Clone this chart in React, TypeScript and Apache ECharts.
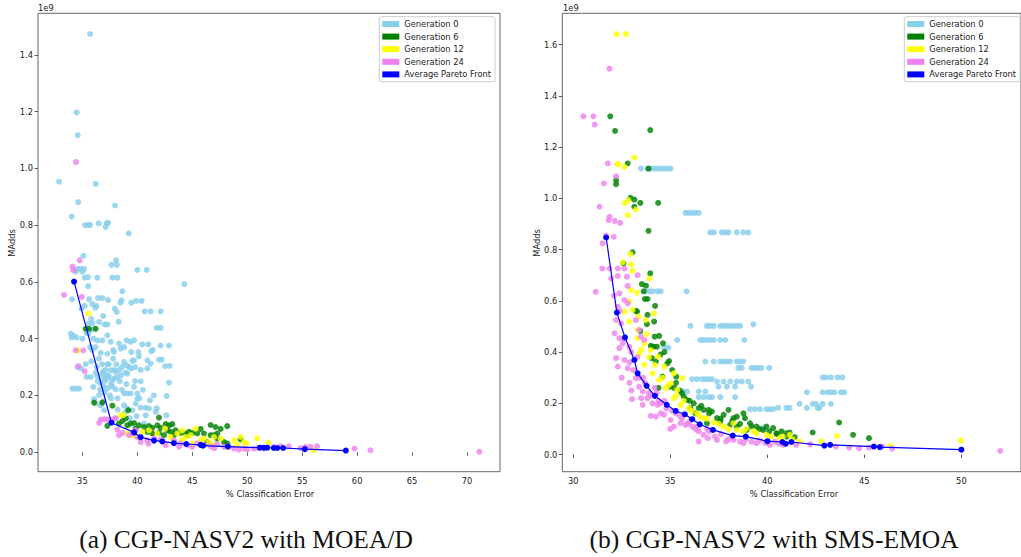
import React, { useEffect, useRef } from "react";
import * as echarts from "echarts";

// Series names and colours (legend order)
const SERIES_NAMES = ["Generation 0", "Generation 6", "Generation 12", "Generation 24", "Average Pareto Front"];
const SERIES_COLORS = ["#87CEEB", "#008000", "#FFFF00", "#EE82EE", "#0000FF"];

// Tick labels
const X_TICKS_A = [35, 40, 45, 50, 55, 60, 65, 70];
const Y_TICKS_A = [0, 0.2, 0.4, 0.6, 0.8, 1.0, 1.2, 1.4];
const X_TICKS_B = [30, 35, 40, 45, 50];
const Y_TICKS_B = [0, 0.2, 0.4, 0.6, 0.8, 1.0, 1.2, 1.4, 1.6];

// (a) CGP-NASV2 with MOEA/D   — [% classification error, MAdds ×1e9]
const MOEAD_GEN0: [number, number][] = [
  [35.70,1.473],[34.48,1.197],[34.58,1.117],[32.88,0.953],[36.21,0.945],[34.61,0.881],[34.03,0.830],[37.97,0.869],
  [35.24,0.800],[35.55,0.800],[35.70,0.800],[36.48,0.806],[37.21,0.806],[37.33,0.808],[37.12,0.793],[39.21,0.771],
  [35.09,0.692],[38.06,0.676],[37.64,0.660],[38.12,0.660],[34.55,0.646],[34.85,0.646],[35.15,0.646],[34.39,0.636],
  [35.00,0.636],[40.00,0.642],[40.85,0.642],[36.36,0.615],[35.52,0.617],[37.73,0.615],[38.18,0.615],[35.21,0.615],
  [44.27,0.592],[35.52,0.585],[34.06,0.539],[35.61,0.539],[36.42,0.543],[36.82,0.543],[37.33,0.536],[35.91,0.522],
  [35.21,0.516],[36.27,0.516],[38.64,0.567],[38.55,0.535],[38.48,0.527],[39.45,0.527],[39.88,0.533],[40.39,0.533],
  [37.94,0.506],[38.12,0.494],[40.67,0.496],[41.21,0.496],[42.12,0.496],[34.91,0.506],[36.18,0.509],[35.55,0.453],
  [35.91,0.455],[36.52,0.459],[37.03,0.450],[37.27,0.450],[35.76,0.430],[36.06,0.435],[35.52,0.418],[33.94,0.418],
  [34.03,0.404],[34.48,0.404],[35.00,0.400],[36.36,0.394],[36.82,0.394],[37.27,0.412],[37.58,0.389],[38.33,0.383],
  [39.03,0.394],[39.39,0.389],[39.70,0.394],[40.45,0.380],[41.76,0.438],[42.12,0.438],[42.12,0.376],[42.88,0.376],
  [41.27,0.356],[36.67,0.350],[37.27,0.347],[37.88,0.353],[38.48,0.365],[39.45,0.353],[40.09,0.353],[40.15,0.338],
  [40.91,0.324],[41.21,0.312],[41.97,0.326],[42.21,0.326],[42.52,0.303],[42.94,0.304],[40.91,0.295],[38.79,0.318],
  [39.03,0.306],[39.55,0.322],[39.70,0.324],[37.27,0.310],[37.58,0.289],[38.03,0.283],[38.33,0.289],[34.55,0.300],
  [34.85,0.295],[35.39,0.265],[35.76,0.265],[36.36,0.268],[36.82,0.277],[37.27,0.259],[37.73,0.254],[38.18,0.265],
  [39.09,0.277],[39.24,0.300],[39.45,0.295],[42.88,0.245],[39.79,0.251],[34.09,0.224],[34.39,0.224],[34.70,0.224],
  [36.67,0.242],[36.97,0.230],[37.27,0.224],[37.73,0.232],[38.03,0.221],[38.79,0.207],[39.09,0.207],[39.39,0.207],
  [36.52,0.201],[40.00,0.207],[40.00,0.189],[42.67,0.198],[41.15,0.183],[39.85,0.171],[40.30,0.157],[40.76,0.157],
  [41.06,0.154],[38.79,0.165],[39.09,0.154],[39.55,0.148],[41.76,0.155],[36.67,0.165],[36.97,0.148],[40.76,0.130],
  [41.67,0.142],[42.64,0.130],[39.94,0.127],[40.61,0.101],[36.06,0.187],[36.21,0.171],[36.90,0.285],[37.40,0.270],
  [37.00,0.250],[37.60,0.240],[36.60,0.220],[37.90,0.290],[38.40,0.250],[36.30,0.300],[35.90,0.360],[36.00,0.400],
  [35.70,0.370],[34.20,0.410],[35.30,0.310],[36.90,0.180],[37.50,0.200],[38.20,0.150],[38.00,0.120],[39.30,0.120],
  [36.50,0.330],[36.80,0.310],[37.10,0.290],[37.40,0.310],[37.80,0.330],[38.10,0.310],[38.60,0.300],[38.90,0.280],
  [38.50,0.270],[37.90,0.260],[37.20,0.270],[36.90,0.260],[36.40,0.250],[36.20,0.280],[36.00,0.230],[37.00,0.210],
  [37.60,0.190],[38.20,0.190],[38.60,0.220],[39.70,0.230],[40.30,0.250],[40.50,0.220],[40.20,0.190],[39.00,0.240],
  [38.90,0.140],[41.50,0.200],[37.80,0.360],[38.80,0.370],[36.20,0.370],[35.80,0.320],[39.80,0.300],[40.30,0.290],
  [41.40,0.360],[41.00,0.380],[35.40,0.420],[35.80,0.470],[36.90,0.480],[38.30,0.460],
];
const MOEAD_GEN6: [number, number][] = [
  [35.30,0.435],[35.61,0.435],[36.21,0.435],[36.06,0.175],[36.82,0.175],[37.73,0.164],[39.18,0.148],[41.97,0.122],
  [37.27,0.093],[38.33,0.101],[38.64,0.110],[38.94,0.119],[39.09,0.095],[39.39,0.101],[39.70,0.103],[39.85,0.083],
  [40.15,0.095],[40.61,0.089],[41.06,0.092],[41.36,0.086],[41.82,0.095],[42.12,0.086],[42.58,0.099],[42.88,0.095],
  [43.18,0.099],[42.73,0.077],[43.03,0.072],[43.48,0.077],[43.94,0.068],[44.39,0.066],[44.70,0.072],[45.00,0.068],
  [45.76,0.082],[46.67,0.096],[47.12,0.089],[47.58,0.082],[48.18,0.092],[46.67,0.060],[46.97,0.060],[47.27,0.066],
  [47.27,0.048],[46.36,0.036],[47.88,0.036],[48.18,0.031],[49.39,0.045],[41.97,0.068],[42.42,0.060],[43.33,0.060],
  [40.91,0.072],[41.36,0.066],[44.55,0.060],[45.45,0.066],[46.06,0.066],
];
const MOEAD_GEN12: [number, number][] = [
  [35.55,0.488],[34.61,0.359],[38.48,0.130],[38.73,0.131],[40.45,0.072],[41.06,0.077],[41.82,0.066],[42.52,0.083],
  [43.03,0.054],[43.64,0.066],[44.09,0.077],[44.39,0.054],[44.85,0.060],[45.30,0.083],[45.76,0.042],[46.06,0.048],
  [46.52,0.036],[46.97,0.054],[47.58,0.048],[48.79,0.042],[49.39,0.054],[49.70,0.036],[49.94,0.031],[50.91,0.049],
  [51.91,0.033],[56.06,0.007],[39.09,0.066],[39.55,0.060],[40.00,0.054],[42.12,0.042],[43.33,0.036],[44.09,0.045],
  [45.00,0.031],[46.97,0.025],[49.09,0.025],
];
const MOEAD_GEN24: [number, number][] = [
  [34.42,1.022],[33.33,0.554],[34.09,0.654],[34.18,0.641],[34.76,0.676],[34.94,0.547],[34.39,0.359],[35.09,0.359],
  [34.64,0.303],[35.21,0.285],[36.52,0.103],[36.67,0.115],[36.97,0.116],[37.27,0.115],[37.73,0.115],[38.03,0.119],
  [38.18,0.080],[38.33,0.060],[38.64,0.068],[39.24,0.060],[39.55,0.066],[39.85,0.077],[40.00,0.054],[40.30,0.036],
  [40.91,0.042],[41.52,0.048],[42.12,0.045],[42.58,0.025],[43.33,0.042],[43.94,0.031],[44.55,0.025],[45.00,0.019],
  [45.45,0.031],[46.06,0.025],[46.67,0.021],[47.27,0.028],[47.88,0.019],[48.79,0.013],[49.24,0.009],[49.70,0.013],
  [50.61,0.013],[51.52,0.013],[52.42,0.019],[53.03,0.021],[53.79,0.021],[54.85,0.015],[55.30,0.019],[55.76,0.019],
  [56.36,0.021],[59.76,0.013],[61.21,0.007],[71.12,0.002],[41.00,0.030],[43.80,0.020],[47.00,0.014],[50.00,0.010],
  [51.00,0.015],[48.30,0.020],
];
const MOEAD_PARETO: [number, number][] = [
  [34.24,0.601],[37.64,0.104],[39.70,0.070],[40.30,0.053],[41.52,0.041],[42.27,0.038],[43.33,0.032],[44.45,0.029],
  [45.76,0.026],[45.97,0.023],[48.24,0.020],[51.15,0.016],[51.52,0.016],[51.82,0.016],[52.42,0.015],[52.73,0.015],
  [53.27,0.015],[55.24,0.011],[58.97,0.006],
];

// (b) CGP-NASV2 with SMS-EMOA
const SMSEMOA_GEN0: [number, number][] = [
  [33.49,1.116],[33.83,1.116],[34.00,1.116],[34.17,1.116],[34.34,1.116],[34.51,1.116],[34.68,1.116],[34.85,1.116],[35.02,1.116],
  [35.79,0.943],[35.96,0.943],[36.13,0.943],[36.30,0.943],[36.47,0.943],
  [37.06,0.867],[37.24,0.867],[37.66,0.867],[37.83,0.867],[38.00,0.867],[38.43,0.867],[38.77,0.867],[39.02,0.867],
  [33.75,0.637],[33.92,0.637],[34.09,0.637],[34.34,0.637],[34.51,0.637],[35.84,0.637],
  [36.04,0.502],[36.89,0.502],[37.06,0.502],[37.24,0.502],[37.58,0.502],[37.75,0.502],[37.92,0.502],[38.09,0.502],
  [38.26,0.502],[38.43,0.502],[38.60,0.502],[39.28,0.508],
  [35.36,0.447],[36.55,0.447],[36.72,0.447],[36.89,0.447],[37.06,0.447],[37.24,0.447],[37.58,0.447],[37.83,0.447],[38.82,0.447],
  [36.81,0.363],[37.24,0.363],[37.58,0.363],[37.75,0.363],[37.92,0.363],[38.09,0.363],[38.43,0.363],[38.60,0.363],[38.77,0.363],
  [38.51,0.338],[38.68,0.338],[39.19,0.338],[39.36,0.338],[39.53,0.338],[39.70,0.338],[40.10,0.338],
  [36.13,0.294],[36.38,0.294],[36.64,0.294],[36.81,0.294],[36.98,0.294],[37.15,0.294],
  [37.41,0.285],[37.75,0.285],[38.09,0.285],[38.43,0.285],[38.68,0.285],[39.02,0.285],
  [37.49,0.265],[37.92,0.265],[38.34,0.265],[39.16,0.265],
  [35.70,0.246],[35.87,0.246],[36.47,0.246],[36.81,0.246],
  [36.47,0.224],[36.72,0.224],[36.98,0.224],[37.15,0.224],[37.58,0.224],[38.34,0.224],
  [39.11,0.177],[39.36,0.177],[39.62,0.177],[39.96,0.177],[40.13,0.177],[40.30,0.177],
  [40.56,0.182],[40.98,0.182],[41.15,0.182],[42.04,0.182],[42.60,0.182],[42.68,0.182],
  [41.66,0.198],[42.34,0.198],[42.51,0.198],[42.85,0.198],[43.28,0.198],
  [42.04,0.243],[42.85,0.243],[43.11,0.243],[43.28,0.243],[43.45,0.243],[43.79,0.243],[43.96,0.243],
  [42.85,0.301],[43.02,0.301],[43.28,0.301],[43.62,0.301],[43.87,0.301],
  [39.80,0.105],[34.68,0.417],[34.90,0.417],
];
const SMSEMOA_GEN6: [number, number][] = [
  [31.91,1.320],[32.16,1.263],[33.97,1.266],[32.81,1.136],[33.88,1.116],[32.21,1.071],[32.21,1.055],[32.95,1.002],
  [33.15,0.995],[33.46,0.982],[33.15,0.967],[34.38,0.982],[33.88,0.873],[33.06,0.789],[32.59,0.746],[33.97,0.707],
  [33.54,0.665],[33.75,0.659],[33.63,0.637],[33.69,0.607],[33.83,0.607],[34.22,0.580],[33.23,0.561],[33.29,0.558],
  [33.83,0.545],[33.80,0.509],[33.46,0.482],[34.17,0.519],[34.20,0.460],[34.43,0.463],[34.63,0.434],[34.00,0.424],
  [34.14,0.421],[34.31,0.421],[34.05,0.376],[34.26,0.363],[34.85,0.356],[34.94,0.365],[34.60,0.304],[35.31,0.304],
  [34.99,0.265],[34.39,0.260],[35.50,0.250],[35.70,0.226],[35.84,0.213],[36.21,0.200],[36.47,0.181],[36.72,0.174],
  [36.98,0.174],[37.15,0.168],[37.41,0.142],[37.75,0.155],[38.00,0.174],[38.26,0.142],[38.43,0.148],[38.77,0.161],
  [38.85,0.142],[39.11,0.122],[39.45,0.109],[39.79,0.096],[40.30,0.103],[40.47,0.083],[40.73,0.090],[41.15,0.086],
  [41.41,0.068],[42.34,0.086],[43.70,0.125],[44.42,0.077],[45.24,0.064],[36.04,0.181],[36.30,0.161],[36.89,0.122],
  [37.58,0.129],[38.09,0.116],[38.43,0.109],[38.94,0.096],[39.96,0.109],[40.98,0.083],
  [34.70,0.400],[35.10,0.330],[35.30,0.280],[35.60,0.240],[36.00,0.210],[36.60,0.190],[37.00,0.160],[37.60,0.140],
  [38.20,0.130],[38.60,0.120],[39.20,0.110],[39.60,0.100],[40.10,0.090],[40.50,0.080],[41.00,0.070],[34.50,0.390],
  [35.20,0.260],
];
const SMSEMOA_GEN12: [number, number][] = [
  [32.25,1.641],[32.72,1.641],[33.15,1.159],[32.26,1.133],[32.33,1.133],[32.64,1.123],[32.67,0.982],[32.84,0.993],
  [33.23,0.956],[32.81,0.934],[32.55,0.750],[32.95,0.782],[32.98,0.742],[33.06,0.717],[33.92,0.687],[32.98,0.642],
  [33.29,0.632],[32.89,0.596],[33.06,0.564],[33.37,0.538],[33.75,0.525],[33.32,0.486],[32.89,0.519],[32.64,0.558],
  [34.17,0.551],[33.66,0.434],[34.00,0.408],[34.38,0.382],[34.68,0.343],[35.19,0.317],[35.62,0.298],[35.02,0.278],
  [35.36,0.252],[33.32,0.454],[33.40,0.395],[33.66,0.350],[34.09,0.317],[34.43,0.291],[34.77,0.259],[35.19,0.220],
  [35.53,0.194],[35.96,0.181],[36.38,0.161],[36.72,0.142],[37.24,0.125],[37.75,0.109],[38.26,0.122],[38.43,0.096],
  [38.77,0.090],[39.45,0.083],[39.96,0.077],[40.64,0.064],[41.15,0.077],[41.66,0.051],[42.77,0.051],[43.59,0.073],
  [46.34,0.034],[49.97,0.055],
  [33.90,0.380],[34.20,0.350],[34.60,0.300],[34.90,0.270],[35.30,0.230],[35.70,0.210],[36.10,0.170],[36.50,0.150],
  [36.90,0.140],[37.50,0.120],[38.00,0.100],[38.90,0.100],[39.30,0.090],[40.20,0.070],[40.80,0.070],[41.30,0.060],
  [33.50,0.410],[33.80,0.470],
];
const SMSEMOA_GEN24: [number, number][] = [
  [30.53,1.320],[31.04,1.320],[31.11,1.288],[31.87,1.506],[31.79,1.136],[31.58,1.058],[32.21,1.086],[31.36,0.967],
  [31.87,0.928],[31.82,0.915],[32.14,0.912],[32.42,0.904],[31.69,0.854],[32.09,0.850],[31.52,0.824],[31.50,0.726],
  [31.87,0.726],[32.30,0.726],[32.64,0.726],[31.96,0.687],[32.30,0.697],[32.77,0.694],[33.32,0.700],[31.16,0.635],
  [32.81,0.658],[32.38,0.629],[32.64,0.603],[32.81,0.590],[32.30,0.577],[32.21,0.525],[32.47,0.512],[33.23,0.525],
  [33.40,0.486],[33.49,0.460],[33.66,0.447],[32.13,0.473],[32.38,0.454],[32.55,0.434],[32.89,0.421],[32.38,0.415],
  [32.21,0.376],[32.30,0.343],[32.64,0.369],[32.81,0.337],[33.03,0.216],[33.23,0.298],[33.40,0.265],[33.58,0.246],
  [33.83,0.220],[34.09,0.200],[34.34,0.194],[33.58,0.194],[34.00,0.151],[34.26,0.148],[34.51,0.161],[34.68,0.155],
  [35.02,0.135],[35.19,0.109],[35.53,0.122],[35.79,0.116],[36.13,0.109],[36.47,0.090],[36.72,0.077],[36.93,0.064],
  [37.41,0.057],[37.88,0.051],[38.26,0.057],[38.77,0.044],[39.45,0.044],[40.13,0.038],[40.81,0.038],[41.49,0.038],
  [42.21,0.040],[43.53,0.031],[44.22,0.027],[44.73,0.025],[45.24,0.027],[45.92,0.031],[46.43,0.023],[36.47,0.051],
  [52.00,0.014],[32.50,0.300],[32.90,0.280],[33.00,0.250],[33.50,0.220],[33.90,0.240],[34.50,0.200],[34.80,0.180],
  [35.30,0.160],[35.60,0.140],[36.00,0.130],[36.40,0.110],[37.00,0.090],[37.60,0.080],[38.20,0.070],[38.90,0.060],
  [39.60,0.055],[40.40,0.050],[35.00,0.100],[33.30,0.380],[33.00,0.400],[34.20,0.260],
  [32.60,0.450],[32.90,0.360],[33.10,0.330],[33.40,0.300],[33.70,0.280],[34.00,0.230],[34.40,0.210],[34.70,0.210],
  [35.10,0.170],[35.50,0.150],[35.90,0.120],[36.30,0.100],[36.90,0.100],[37.30,0.070],[38.00,0.060],[38.60,0.050],
  [39.20,0.050],[39.90,0.045],[40.60,0.042],[33.60,0.300],[34.30,0.240],[32.40,0.560],[32.10,0.620],
];
const SMSEMOA_PARETO: [number, number][] = [
  [31.70,0.847],[32.25,0.554],[32.67,0.457],[33.15,0.369],[33.32,0.317],[33.78,0.268],[34.21,0.229],[34.82,0.194],
  [35.28,0.170],[35.75,0.157],[36.13,0.138],[36.52,0.118],[37.20,0.096],[38.22,0.074],[38.89,0.070],[40.01,0.052],
  [40.78,0.049],[40.95,0.042],[41.24,0.049],[42.94,0.035],[43.24,0.038],[45.49,0.031],[45.80,0.029],[50.00,0.019],
];

const FONT = "DejaVu Sans";
const TXT = "#222";

function xAxisCfg(gridIndex: number, min: number, max: number, ticks: number[]) {
  return {
    gridIndex, type: "value", min, max,
    axisLine: { show: false }, splitLine: { show: false },
    axisTick: { show: true, length: 3.5, lineStyle: { color: "#333", width: 0.8 }, customValues: ticks },
    axisLabel: {
      customValues: ticks, fontSize: 8.3, fontFamily: FONT, color: TXT, margin: 5,
      formatter: (v: number) => (Math.abs(v / 5 - Math.round(v / 5)) < 1e-6 ? String(Math.round(v)) : ""),
    },
  };
}
function yAxisCfg(gridIndex: number, min: number, max: number, ticks: number[]) {
  return {
    gridIndex, type: "value", min, max,
    axisLine: { show: false }, splitLine: { show: false },
    axisTick: { show: true, length: 3.5, lineStyle: { color: "#333", width: 0.8 }, customValues: ticks },
    axisLabel: {
      customValues: ticks, fontSize: 8.3, fontFamily: FONT, color: TXT, margin: 5,
      formatter: (v: number) => (Math.abs(v * 5 - Math.round(v * 5)) < 1e-6 ? v.toFixed(1) : ""),
    },
  };
}
function legendCfg(left: number) {
  return {
    data: SERIES_NAMES, orient: "vertical", left, top: 16.7, icon: "rect",
    itemWidth: 17, itemHeight: 6, itemGap: 2.6, padding: [2.3, 4, 2.3, 3],
    backgroundColor: "rgba(255,255,255,0.85)", borderColor: "#ccc", borderWidth: 1, borderRadius: 2,
    textStyle: { fontSize: 8.3, fontFamily: FONT, color: TXT, lineHeight: 10 },
    itemStyle: { opacity: 1 }, selectedMode: false,
  };
}
function seriesFor(idx: number, sets: [number, number][][]) {
  return sets.map((data, i) => {
    if (i === 4) {
      return {
        type: "line", name: SERIES_NAMES[i], xAxisIndex: idx, yAxisIndex: idx, data,
        symbol: "circle", symbolSize: 6, showSymbol: true, z: 5,
        lineStyle: { color: SERIES_COLORS[i], width: 1.2 },
        itemStyle: { color: SERIES_COLORS[i] },
      };
    }
    return {
      type: "scatter", name: SERIES_NAMES[i], xAxisIndex: idx, yAxisIndex: idx, data,
      symbolSize: 6, itemStyle: { color: SERIES_COLORS[i], opacity: 0.82 },
    };
  });
}
function txt(text: string, x: number, y: number, opts: any = {}) {
  return {
    type: "text", x, y, rotation: opts.rotation || 0, silent: true,
    style: {
      text, fill: opts.fill || TXT, fontSize: opts.fontSize || 8.3, fontFamily: opts.fontFamily || FONT,
      align: opts.align || "center", verticalAlign: "middle",
    },
  };
}

export default function App() {
  const ref = useRef<HTMLDivElement>(null);
  useEffect(() => {
    if (!ref.current) return;
    const chart = echarts.init(ref.current, null, { renderer: "svg" });
    const gridBase = { top: 13.3, bottom: 85.3, show: true, borderColor: "#666", borderWidth: 1, backgroundColor: "transparent" };
    chart.setOption({
      animation: false,
      backgroundColor: "#fff",
      grid: [
        { ...gridBase, left: 38, right: 521 },
        { ...gridBase, left: 562.3, right: -4 },
      ],
      xAxis: [xAxisCfg(0, 30.96, 73.0, X_TICKS_A), xAxisCfg(1, 29.44, 53.07, X_TICKS_B)],
      yAxis: [yAxisCfg(0, -0.0685, 1.546, Y_TICKS_A), yAxisCfg(1, -0.067, 1.722, Y_TICKS_B)],
      legend: [legendCfg(379.3), legendCfg(904.3)],
      series: [
        ...seriesFor(0, [MOEAD_GEN0, MOEAD_GEN6, MOEAD_GEN12, MOEAD_GEN24, MOEAD_PARETO]),
        ...seriesFor(1, [SMSEMOA_GEN0, SMSEMOA_GEN6, SMSEMOA_GEN12, SMSEMOA_GEN24, SMSEMOA_PARETO]),
      ],
      graphic: [
        txt("1e9", 38, 7.5, { align: "left" }),
        txt("1e9", 563, 7.5, { align: "left" }),
        txt("MAdds", 12, 243, { rotation: Math.PI / 2 }),
        txt("MAdds", 537, 243, { rotation: Math.PI / 2 }),
        txt("% Classification Error", 270, 494),
        txt("% Classification Error", 794, 494),
        txt("(a) CGP-NASV2 with MOEA/D", 246, 539, { fontSize: 25.5, fontFamily: "Liberation Serif", fill: "#111" }),
        txt("(b) CGP-NASV2 with SMS-EMOA", 774, 539, { fontSize: 25.5, fontFamily: "Liberation Serif", fill: "#111" }),
      ],
    });
    return () => chart.dispose();
  }, []);
  return <div ref={ref} style={{ position: "fixed", left: 0, top: 0, width: 1021, height: 557 }} />;
}
